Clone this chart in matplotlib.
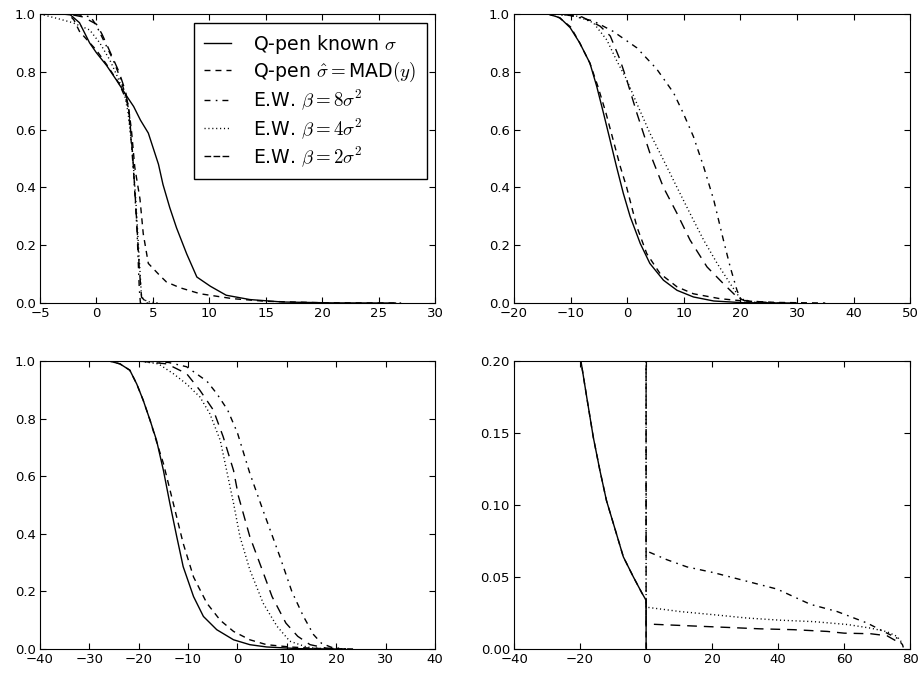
import numpy as np
import matplotlib
matplotlib.use('Agg')
import matplotlib.pyplot as plt
from matplotlib.lines import Line2D

plt.rcParams['font.family'] = ['DejaVu Sans']
plt.rcParams['mathtext.fontset'] = 'cm'
plt.rcParams['xtick.direction'] = 'in'
plt.rcParams['ytick.direction'] = 'in'
plt.rcParams['xtick.top'] = True
plt.rcParams['ytick.right'] = True
plt.rcParams['xtick.major.size'] = 4
plt.rcParams['ytick.major.size'] = 4
plt.rcParams['xtick.labelsize'] = 9.5
plt.rcParams['ytick.labelsize'] = 9.5
plt.rcParams['xtick.major.pad'] = 3
plt.rcParams['ytick.major.pad'] = 3

# line styles: (label, dashes)
labels = [r'Q-pen known $\sigma$',
          r'Q-pen $\hat{\sigma}=$MAD$(y)$',
          r'E.W. $\beta=8\sigma^2$',
          r'E.W. $\beta=4\sigma^2$',
          r'E.W. $\beta=2\sigma^2$']
styles = [None, (4.3, 3.6), (4.3, 3.8, 1.2, 3.6), (0.8, 2.0), (7.0, 5.0)]
legend_styles = [None, (4.3, 3.6), (4.3, 3.8, 1.2, 3.6), (0.8, 2.0), (4.8, 1.7)]

# ---------------------------------------------------------------- panel 1
p1_solid_x = [-5, -3, -2.3, -1.5, -0.6, 0, 0.9, 1.8, 2.7, 3.3, 3.9, 4.6, 5.0, 5.5, 5.9,
              6.5, 7.1, 8.0, 8.9, 10.1, 11.5, 13.6, 16.5, 21, 26.5]
p1_solid_y = [1.0, 1.0, 0.997, 0.97, 0.90, 0.866, 0.822, 0.77, 0.715, 0.68, 0.633, 0.588,
              0.54, 0.48, 0.41, 0.33, 0.26, 0.17, 0.09, 0.058, 0.027, 0.012, 0.0035, 0.0005, 0.0]
p1_mad_x = [-5, -2.5, -2.0, -1.5, -0.7, 0, 1.0, 2.0, 2.8, 3.1, 3.4, 3.86, 4.15, 4.6, 5.6,
            6.2, 7.4, 9.2, 12.1, 15, 20, 27]
p1_mad_y = [1.0, 1.0, 0.98, 0.94, 0.905, 0.875, 0.82, 0.76, 0.69, 0.60, 0.47, 0.36, 0.24,
            0.137, 0.096, 0.073, 0.053, 0.032, 0.015, 0.006, 0.001, 0.0]
p1_ew8_x = [-5, -2, -0.5, 0, 0.5, 1.0, 1.5, 2.0, 2.5, 2.8, 3.0, 3.3, 3.6, 3.8, 3.9, 5.0]
p1_ew8_y = [1.0, 1.0, 0.99, 0.96, 0.92, 0.88, 0.84, 0.79, 0.73, 0.68, 0.60, 0.45, 0.25,
            0.05, 0.0, 0.0]
p1_ew4_x = [-5, -3.5, -2.1, -1.5, -0.6, 0.3, 1.2, 1.9, 2.5, 2.8, 3.2, 3.5, 3.8, 4.0, 4.5, 5.5]
p1_ew4_y = [1.0, 0.985, 0.97, 0.96, 0.945, 0.90, 0.84, 0.78, 0.72, 0.66, 0.52, 0.35, 0.15,
            0.02, 0.005, 0.0]
p1_ew2_x = [-5, -2.5, -1.2, 0, 0.5, 1.2, 2.0, 2.6, 2.9, 3.2, 3.5, 3.8, 4.0, 4.5]
p1_ew2_y = [1.0, 1.0, 0.99, 0.965, 0.93, 0.87, 0.80, 0.73, 0.66, 0.52, 0.33, 0.12, 0.02, 0.0]

# ---------------------------------------------------------------- panel 2
p2_solid_x = [-20, -14, -11.9, -10.1, -8.4, -6.6, -5.4, -4.2, -3.05, -1.9, -0.7, 0.5, 2.3,
              4.0, 6.4, 8.8, 11.7, 15.3, 20.6, 30]
p2_solid_y = [1.0, 1.0, 0.987, 0.953, 0.90, 0.83, 0.75, 0.657, 0.565, 0.472, 0.38, 0.30,
              0.206, 0.137, 0.079, 0.044, 0.021, 0.007, 0.001, 0.0]
p2_mad_x = [-20, -14, -12, -10, -8.4, -6.6, -5.2, -3.8, -2.5, -1.2, -0.1, 1.7, 3.45, 5.8,
            8.8, 11.7, 16.4, 20.6, 26.5, 35]
p2_mad_y = [1.0, 1.0, 0.987, 0.955, 0.90, 0.83, 0.75, 0.66, 0.565, 0.47, 0.40, 0.264,
            0.171, 0.102, 0.056, 0.032, 0.015, 0.007, 0.002, 0.0]
p2_ew8_x = [-20, -14, -10.1, -6, -2.5, 1.7, 5.2, 8.2, 9.9, 11.7, 13.5, 15.3, 17.0, 18.2,
            19.4, 20.3, 25]
p2_ew8_y = [1.0, 1.0, 0.995, 0.976, 0.94, 0.883, 0.81, 0.727, 0.657, 0.576, 0.472, 0.356,
            0.218, 0.125, 0.044, 0.003, 0.0]
p2_ew4_x = [-20, -12, -9, -6, -3.6, -1.9, -0.1, 1.7, 4.0, 6.4, 8.8, 11.1, 13.5, 15.9,
            18.2, 20.0, 22.3, 28]
p2_ew4_y = [1.0, 1.0, 0.993, 0.97, 0.91, 0.84, 0.773, 0.69, 0.588, 0.495, 0.40, 0.31,
            0.218, 0.137, 0.067, 0.015, 0.003, 0.0]
p2_ew2_x = [-20, -12, -8, -4.8, -3.0, -1.3, -0.1, 1.7, 4.0, 6.4, 8.8, 11.1, 14.1, 17.0,
            19.4, 20.6, 26]
p2_ew2_y = [1.0, 1.0, 0.99, 0.958, 0.924, 0.843, 0.773, 0.657, 0.519, 0.40, 0.31, 0.218,
            0.125, 0.067, 0.021, 0.009, 0.0]

# ---------------------------------------------------------------- panel 3
p3_solid_x = [-40, -26, -23.8, -21.8, -20.4, -19.1, -17.7, -16.4, -15, -13.7, -12.3, -11,
              -8.9, -6.9, -4.2, -0.8, 2.5, 5.9, 12.7, 20]
p3_solid_y = [1.0, 1.0, 0.99, 0.968, 0.92, 0.864, 0.794, 0.725, 0.62, 0.506, 0.39, 0.286,
              0.182, 0.113, 0.067, 0.032, 0.015, 0.007, 0.001, 0.0]
p3_mad_x = [-40, -26, -23.8, -21.8, -20.4, -19.1, -17.7, -16.4, -15, -13, -11, -8.9, -6.2,
            -3.5, -0.8, 2.5, 5.9, 10.6, 16, 24]
p3_mad_y = [1.0, 1.0, 0.99, 0.968, 0.92, 0.864, 0.794, 0.72, 0.644, 0.506, 0.367, 0.25,
            0.159, 0.10, 0.061, 0.032, 0.015, 0.007, 0.002, 0.0]
p3_ew8_x = [-40, -20, -14, -10.3, -6.2, -4.2, -2, 0, 2.5, 5.2, 8.6, 11, 13.3, 15.4, 17,
            19, 22]
p3_ew8_y = [1.0, 1.0, 0.995, 0.98, 0.93, 0.887, 0.83, 0.75, 0.61, 0.48, 0.32, 0.2, 0.115,
            0.05, 0.02, 0.006, 0.0]
p3_ew4_x = [-40, -20, -16, -13, -10.3, -7.6, -5.6, -3.5, -2.2, -0.8, 0.5, 2.5, 5.2, 8,
            10.6, 14, 18]
p3_ew4_y = [1.0, 1.0, 0.99, 0.956, 0.92, 0.875, 0.817, 0.725, 0.62, 0.506, 0.39, 0.275,
            0.159, 0.079, 0.027, 0.007, 0.0]
p3_ew2_x = [-40, -20, -14.3, -10.3, -7.6, -4.9, -2.9, -0.8, 0.2, 2.5, 5.0, 7.0, 9.8, 12.2,
            14.7, 18, 22]
p3_ew2_y = [1.0, 1.0, 0.99, 0.956, 0.898, 0.83, 0.737, 0.62, 0.53, 0.39, 0.275, 0.182,
            0.09, 0.044, 0.015, 0.003, 0.0]

# ---------------------------------------------------------------- panel 4
p4_solid_x = [-21, -19.75, -18, -16, -14, -12, -9.9, -6.9, -3.85, -1.3, -0.3, 0, 0]
p4_solid_y = [0.218, 0.2, 0.175, 0.147, 0.124, 0.103, 0.087, 0.064, 0.050, 0.039, 0.035,
              0.034, 0.0]
p4_mad_x = p4_solid_x
p4_mad_y = p4_solid_y
p4_ew8_x = [-40, 0, 0, 0.2, 6.3, 12.4, 20.5, 30.6, 39.7, 49.8, 57.9, 67, 73, 76, 77.7, 78]
p4_ew8_y = [1.0, 1.0, 0.068, 0.068, 0.062, 0.057, 0.053, 0.047, 0.0416, 0.031, 0.026,
            0.018, 0.011, 0.0076, 0.003, 0.0007]
p4_ew4_x = [-40, 0, 0, 0.2, 10.3, 20.5, 30.6, 40.7, 50.8, 61, 68, 73, 76, 77.7]
p4_ew4_y = [1.0, 1.0, 0.029, 0.029, 0.026, 0.0238, 0.0215, 0.020, 0.019, 0.017, 0.0145,
            0.012, 0.0088, 0.004]
p4_ew2_x = [-40, 0, 0, 0.8, 14, 24.5, 34.6, 44.8, 54.9, 60, 68, 73, 77]
p4_ew2_y = [1.0, 1.0, 0.017, 0.0173, 0.016, 0.015, 0.014, 0.0134, 0.0122, 0.011, 0.0106,
            0.0092, 0.004]

panels = [
    [(p1_solid_x, p1_solid_y), (p1_mad_x, p1_mad_y), (p1_ew8_x, p1_ew8_y),
     (p1_ew4_x, p1_ew4_y), (p1_ew2_x, p1_ew2_y)],
    [(p2_solid_x, p2_solid_y), (p2_mad_x, p2_mad_y), (p2_ew8_x, p2_ew8_y),
     (p2_ew4_x, p2_ew4_y), (p2_ew2_x, p2_ew2_y)],
    [(p3_solid_x, p3_solid_y), (p3_mad_x, p3_mad_y), (p3_ew8_x, p3_ew8_y),
     (p3_ew4_x, p3_ew4_y), (p3_ew2_x, p3_ew2_y)],
    [(p4_solid_x, p4_solid_y), (p4_mad_x, p4_mad_y), (p4_ew8_x, p4_ew8_y),
     (p4_ew4_x, p4_ew4_y), (p4_ew2_x, p4_ew2_y)],
]
xlims = [(-5, 30), (-20, 50), (-40, 40), (-40, 80)]
xticks = [np.arange(-5, 31, 5), np.arange(-20, 51, 10), np.arange(-40, 41, 10),
          np.arange(-40, 81, 20)]
ylims = [(0, 1), (0, 1), (0, 1), (0, 0.2)]
yticks = [np.arange(0, 1.01, 0.2), np.arange(0, 1.01, 0.2), np.arange(0, 1.01, 0.2),
          np.arange(0, 0.201, 0.05)]
yfmt = ['%.1f', '%.1f', '%.1f', '%.2f']

fig = plt.figure(figsize=(9.23, 6.74), dpi=100)
rects = [[0.0433, 0.5504, 0.428, 0.4288], [0.557, 0.5504, 0.429, 0.4288],
         [0.0433, 0.0371, 0.428, 0.4273], [0.557, 0.0371, 0.429, 0.4273]]

axes = []
for i in range(4):
    ax = fig.add_axes(rects[i])
    for j, (x, y) in enumerate(panels[i]):
        if styles[j] is None:
            ax.plot(x, y, color='k', lw=1.0)
        else:
            ax.plot(x, y, color='k', lw=1.0, dashes=styles[j])
    ax.set_xlim(xlims[i])
    ax.set_ylim(ylims[i])
    ax.set_xticks(xticks[i])
    ax.set_yticks(yticks[i])
    ax.set_yticklabels([yfmt[i] % v for v in yticks[i]])
    axes.append(ax)

handles = []
for s in legend_styles:
    if s is None:
        handles.append(Line2D([], [], color='k', lw=1.0))
    else:
        handles.append(Line2D([], [], color='k', lw=1.0, dashes=s))
leg = axes[0].legend(handles, labels, loc='upper right', fontsize=13.6, fancybox=False,
                     framealpha=1, edgecolor='k', handlelength=1.43, handletextpad=1.16,
                     borderpad=0.55, labelspacing=0.2, borderaxespad=0.45)
leg.get_frame().set_linewidth(1.0)

fig.savefig('out.png', dpi=100, facecolor='white')
